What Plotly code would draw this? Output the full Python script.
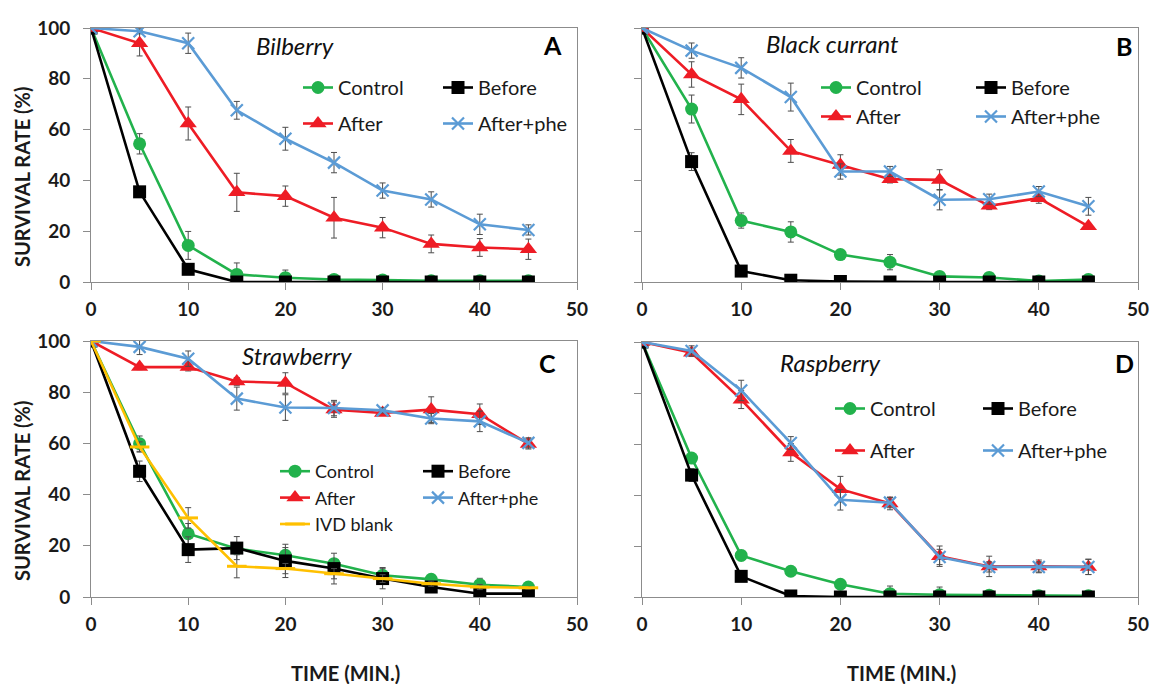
import plotly.graph_objects as go

TIME = [0, 5, 10, 15, 20, 25, 30, 35, 40, 45]

# Panel A - Bilberry
a_control = [100, 54.4, 14.4, 3.0, 1.7, 1.0, 0.8, 0.5, 0.5, 0.5]
a_control_err = [0, 4, 5.5, 4.5, 3, 0, 0, 0, 0, 0]
a_before = [100, 35.5, 5.0, 0, 0, 0, 0, 0, 0, 0]
a_before_err = [0, 1.5, 2, 0, 0, 0, 0, 0, 0, 0]
a_after = [100, 94, 62.4, 35.3, 33.8, 25.3, 21.4, 15.0, 13.6, 12.9]
a_after_err = [0, 5, 6.5, 7.5, 4, 8, 4, 3.5, 3.5, 4]
a_phe = [100, 98.7, 94, 67.6, 56.4, 47.0, 36.0, 32.5, 22.7, 20.5]
a_phe_err = [0, 1, 4, 3.5, 4.5, 4, 3, 3, 4, 2]

# Panel B - Black currant
b_control = [100, 68.1, 24.2, 19.7, 10.8, 7.8, 2.2, 1.8, 0.4, 1.0]
b_control_err = [0, 5.5, 3, 4, 1.5, 3, 1.5, 1, 1, 2]
b_before = [100, 47.4, 4.3, 0.7, 0.2, 0, 0, 0, 0, 0]
b_before_err = [0, 3.5, 2, 0, 0.5, 0, 0, 0, 0, 0]
b_after = [100, 81.7, 71.9, 51.6, 46.1, 40.5, 40.2, 30.0, 33.0, 21.9]
b_after_err = [0, 5, 6, 4.5, 4, 1.5, 4, 1.5, 2, 0]
b_phe = [100, 91.1, 84.3, 72.8, 43.5, 43.5, 32.4, 32.6, 35.6, 29.8]
b_phe_err = [0, 3, 4, 5.5, 3, 2, 4, 2, 2, 3.5]

# Panel C - Strawberry
c_control = [100, 59.9, 24.7, 18.9, 16.3, 13.0, 8.5, 6.9, 4.8, 3.9]
c_control_err = [0, 3, 4, 2, 3, 2, 3, 1, 2.5, 1]
c_before = [100, 49.1, 18.5, 19.1, 14.1, 11.1, 7.2, 3.9, 1.3, 1.3]
c_before_err = [0, 4, 5, 4.5, 6.5, 6, 4, 1, 1, 1]
c_after = [100, 89.8, 89.8, 84.2, 83.6, 73.2, 71.9, 73.2, 71.4, 59.8]
c_after_err = [0, 1, 1.5, 1.5, 4, 3, 1, 5, 4, 2]
c_phe = [100, 97.7, 93.1, 77.5, 74.0, 73.8, 72.9, 69.7, 68.6, 60.2]
c_phe_err = [0, 3, 3, 4.5, 5, 3, 1, 2, 4, 2]
c_ivd = [100, 58.6, 30.9, 12.0, 11.1, 9.1, 7.2, 5.2, 3.9, 3.6]
c_ivd_err = [0, 2, 4, 4.5, 2, 2, 1.5, 1, 1, 0.5]

# Panel D - Raspberry
d_control = [100, 54.5, 16.3, 10.1, 5.0, 1.3, 0.9, 0.7, 0.5, 0.5]
d_control_err = [0, 1.5, 2, 1, 1, 3, 3, 1, 1, 1.5]
d_before = [100, 47.8, 8.1, 0.4, 0, 0, 0, 0, 0, 0]
d_before_err = [0, 2.5, 1, 0, 0, 0, 0, 0, 0, 0]
d_after = [100, 95.8, 77.4, 56.7, 42.3, 36.7, 16.0, 12.0, 12.0, 11.8]
d_after_err = [0, 1.5, 3.5, 3.5, 5, 2.5, 4, 4, 2.5, 3]
d_phe = [100, 96.5, 81.0, 60.4, 38.1, 37.0, 15.7, 11.8, 11.8, 11.8]
d_phe_err = [0, 2, 4, 2.5, 4, 2, 3, 2, 2, 3]

PANEL_NAMES = ["Bilberry", "Black currant", "Strawberry", "Raspberry"]
PANEL_LETTERS = ["A", "B", "C", "D"]
X_TICKS = [0, 10, 20, 30, 40, 50]
Y_TICKS = [0, 20, 40, 60, 80, 100]
Y_TITLE = "SURVIVAL RATE (%)"
X_TITLE = "TIME (MIN.)"

GREEN = "#22b24c"
BLACK = "#000000"
RED = "#ee1c25"
BLUE = "#5b9bd5"
YELLOW = "#ffc000"
ERR = "#4d4d4d"
FONT = "Lato"
TXT = "#1a1a1a"
W, H = 1157, 684

STYLES = {
    "Control": dict(color=GREEN, symbol="circle", size=13, lw=0),
    "Before": dict(color=BLACK, symbol="square", size=13, lw=0),
    "After": dict(color=RED, symbol="triangle-up", size=15, lw=0),
    "After+phe": dict(color=BLUE, symbol="x-thin-open", size=12, lw=2.2),
    "IVD blank": dict(color=YELLOW, symbol="line-ew-open", size=14, lw=3),
}

panels = [
    [("Control", a_control, a_control_err), ("Before", a_before, a_before_err),
     ("After", a_after, a_after_err), ("After+phe", a_phe, a_phe_err)],
    [("Control", b_control, b_control_err), ("Before", b_before, b_before_err),
     ("After", b_after, b_after_err), ("After+phe", b_phe, b_phe_err)],
    [("Control", c_control, c_control_err), ("Before", c_before, c_before_err),
     ("After", c_after, c_after_err), ("After+phe", c_phe, c_phe_err),
     ("IVD blank", c_ivd, c_ivd_err)],
    [("Control", d_control, d_control_err), ("Before", d_before, d_before_err),
     ("After", d_after, d_after_err), ("After+phe", d_phe, d_phe_err)],
]

# pixel geometry of panels (left, right, top, bottom)
GEOM = [(91, 577, 28, 282), (642, 1138, 28, 282), (91, 577, 341, 597), (642, 1138, 342, 597)]
# legend placement: (col1 marker x, col2 marker x, first row y, group gap, font size, grouped)
LEG = [(320, 460, 88, 7, 20, True), (838, 993, 88, 0, 20, True),
       (297, 440, 473, 0, 18, False), (852, 1000, 409, 13, 20, True)]
# title / letter positions in domain fractions
TITLE_POS = [(0.42, 0.933), (0.385, 0.94), (0.424, 0.945), (0.381, 0.92)]
LETTER_POS = [(0.949, 0.933), (0.972, 0.93), (0.94, 0.914), (0.972, 0.918)]

fig = go.Figure()
layout = {}
ann = []
legend_count = 0
for i, series in enumerate(panels):
    k = "" if i == 0 else str(i + 1)
    xa, ya = "x" + k, "y" + k
    l1 = "legend" if legend_count == 0 else "legend%d" % (legend_count + 1)
    l2 = "legend%d" % (legend_count + 2)
    legend_count += 2
    c1x, c2x, ry, gap, lfs, grouped = LEG[i]
    for name, vals, errs in series:
        st = STYLES[name]
        leg = l2 if name in ("Before", "After+phe") else l1
        marker = dict(symbol=st["symbol"], size=st["size"], color=st["color"])
        if st["lw"]:
            marker["line"] = dict(width=st["lw"], color=st["color"])
        fig.add_trace(go.Scatter(
            x=TIME, y=vals, name=name, mode="lines+markers",
            xaxis=xa, yaxis=ya, legend=leg,
            legendgroup=("%s_%d" % (name, i)) if grouped else None,
            line=dict(color=st["color"], width=2.6),
            marker=marker,
            error_y=dict(type="data", array=errs, color=ERR, thickness=1, width=3),
        ))
    L, R, T, B = GEOM[i]
    axis_common = dict(
        showline=True, mirror=True, linecolor="#8c8c8c", linewidth=1,
        ticks="outside", ticklen=7, tickcolor="#8c8c8c", showgrid=False, zeroline=False,
        tickfont=dict(family=FONT, size=19, color=TXT, weight="bold"),
    )
    layout["xaxis" + k] = dict(
        axis_common, domain=[L / W, R / W], range=[0, 50], tickvals=X_TICKS,
        anchor=ya, ticklabelstandoff=3,
    )
    layout["yaxis" + k] = dict(
        axis_common, domain=[1 - B / H, 1 - T / H], range=[0, 100], tickvals=Y_TICKS,
        anchor=xa, showticklabels=(i % 2 == 0), ticklabelstandoff=9,
    )
    tx, ty = TITLE_POS[i]
    ann.append(dict(text="<i>%s</i>" % PANEL_NAMES[i], xref=xa + " domain", yref=ya + " domain",
                    x=tx, y=ty, showarrow=False, xanchor="center", yanchor="middle",
                    font=dict(family=FONT, size=24, color="#111")))
    lx, ly = LETTER_POS[i]
    ann.append(dict(text="<b>%s</b>" % PANEL_LETTERS[i], xref=xa + " domain", yref=ya + " domain",
                    x=lx, y=ly, showarrow=False, xanchor="center",
                    yanchor="middle", font=dict(family=FONT, size=25, color="#000")))
    if i % 2 == 0:
        ann.append(dict(text="<b>%s</b>" % Y_TITLE, xref="paper", yref="paper",
                        x=22 / W, y=1 - ((T + B) / 2 + 22) / H, textangle=-90,
                        showarrow=False, xanchor="center", yanchor="middle",
                        font=dict(family=FONT, size=20, color=TXT)))
    if i >= 2:
        ann.append(dict(text="<b>%s</b>" % X_TITLE, xref="paper", yref="paper",
                        x=((L + R) / 2 + 11) / W, y=1 - 673 / H,
                        showarrow=False, xanchor="center", yanchor="middle",
                        font=dict(family=FONT, size=20, color=TXT)))
    for lname, mx in ((l1, c1x), (l2, c2x)):
        layout[lname] = dict(
            x=(mx - 22) / W, y=1 - (ry - 20) / H, xanchor="left", yanchor="top",
            bgcolor="rgba(0,0,0,0)", borderwidth=0, itemwidth=30,
            tracegroupgap=gap, font=dict(family=FONT, size=lfs, color=TXT),
        )

fig.update_layout(
    width=W, height=H, margin=dict(l=0, r=0, t=0, b=0, autoexpand=False),
    paper_bgcolor="white", plot_bgcolor="white",
    annotations=ann, **layout,
)
fig.write_html("out.html")
